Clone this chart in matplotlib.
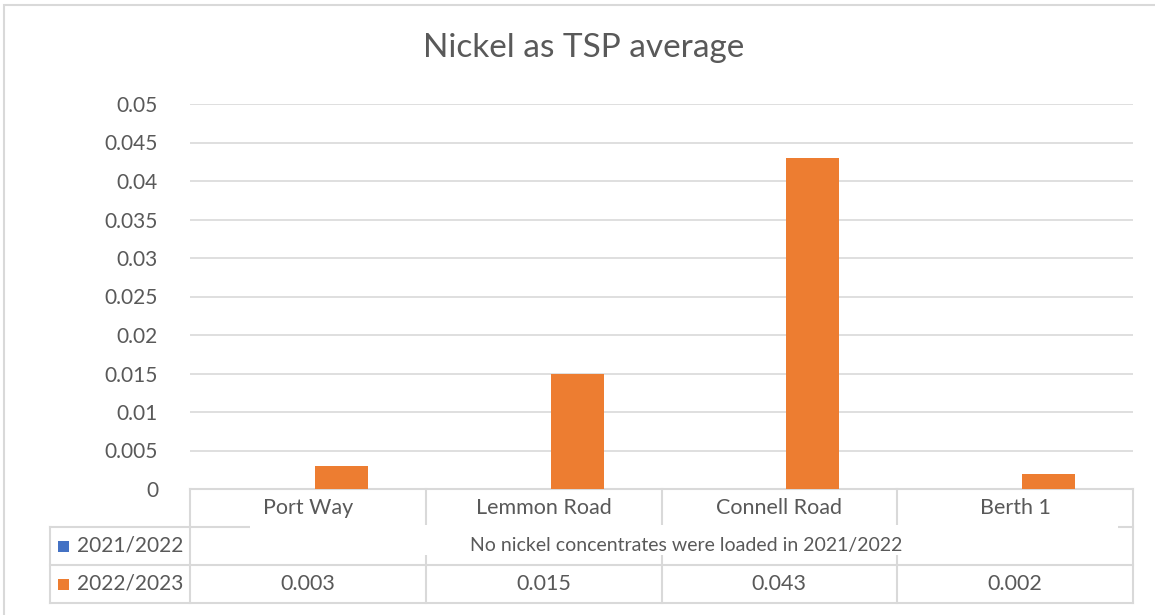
import matplotlib
matplotlib.use("Agg")
import matplotlib.pyplot as plt
from matplotlib.patches import Rectangle

# Data
sites = ["Port Way", "Lemmon Road", "Connell Road", "Berth 1"]
series_names = ["2021/2022", "2022/2023"]
values_2021 = [None, None, None, None]
values_2022 = [0.003, 0.015, 0.043, 0.002]
value_labels_2022 = ["0.003", "0.015", "0.043", "0.002"]
note_2021 = "No nickel concentrates were loaded in 2021/2022"
yticks = [0, 0.005, 0.01, 0.015, 0.02, 0.025, 0.03, 0.035, 0.04, 0.045, 0.05]
ytick_labels = ["0", "0.005", "0.01", "0.015", "0.02", "0.025", "0.03", "0.035",
                "0.04", "0.045", "0.05"]
title = "Nickel as TSP average"

BLUE = "#4472C4"
ORANGE = "#ED7D31"
TEXT = "#595959"
GRID = "#D9D9D9"

plt.rcParams["font.family"] = ["Lato", "DejaVu Sans"]

W, H = 1155, 615
fig = plt.figure(figsize=(W / 100, H / 100), dpi=100)
ax = fig.add_axes([190 / W, 1 - 489 / H, (1133 - 190) / W, (489 - 104) / H])

n = len(sites)
xs = list(range(n))
bar_w = 0.225
off_blue = -0.085
off_orange = 0.142

for i, v in enumerate(values_2021):
    if v is not None:
        ax.bar(i + off_blue, v, width=bar_w, color=BLUE, zorder=3)
ax.bar([x + off_orange for x in xs], values_2022, width=bar_w, color=ORANGE,
       zorder=3)

ax.set_xlim(-0.5, n - 0.5)
ax.set_ylim(0, 0.05)
ax.set_yticks(yticks)
ax.set_yticklabels(ytick_labels)
ax.set_xticks([])
ax.tick_params(axis="y", length=0, pad=23, labelsize=15, labelcolor=TEXT)
ax.grid(axis="y", color=GRID, linewidth=1.2, zorder=0)
for s in ax.spines.values():
    s.set_visible(False)

fig.text(584 / W, 1 - 48 / H, title, ha="center", va="center",
         fontsize=24, color=TEXT)

# Data table below the plot area (axes coordinates)
ah = 489 - 104
aw = 1133 - 190
row_h = 38 / ah
y_rows = [0, -row_h, -2 * row_h, -3 * row_h]
x_left = (50 - 190) / aw
tkw = dict(transform=ax.transAxes, clip_on=False, color=GRID, lw=1.5, zorder=1)

for k in range(n + 1):
    ax.plot([k / n, k / n], [y_rows[0], y_rows[3]], **tkw)
ax.plot([0, 1], [0, 0], **tkw)
for y in y_rows[1:]:
    ax.plot([x_left, 1], [y, y], **tkw)
ax.plot([x_left, x_left], [y_rows[1], y_rows[3]], **tkw)

for k, name in enumerate(sites):
    cx = (k + 0.5) / n
    ax.text(cx, (y_rows[0] + y_rows[1]) / 2, name, transform=ax.transAxes,
            ha="center", va="center", fontsize=15.5, color=TEXT, clip_on=False)
    ax.text(cx, (y_rows[2] + y_rows[3]) / 2, value_labels_2022[k],
            transform=ax.transAxes, ha="center", va="center", fontsize=15.5,
            color=TEXT, clip_on=False)

# Row labels with legend keys
key_w = 11 / aw
key_h = 11 / ah
for r, (label, col) in enumerate(zip(series_names, [BLUE, ORANGE])):
    yc = (y_rows[r + 1] + y_rows[r + 2]) / 2
    ax.add_patch(Rectangle(((58 - 190) / aw, yc - key_h / 2), key_w, key_h,
                           transform=ax.transAxes, clip_on=False,
                           facecolor=col, edgecolor="none", zorder=2))
    ax.text((77 - 190) / aw, yc, label, transform=ax.transAxes, ha="left",
            va="center", fontsize=15, color=TEXT, clip_on=False)

# Note spanning the 2021/2022 row, on a white box
box_x0 = (250 - 190) / aw
box_x1 = (1118 - 190) / aw
box_y0 = (489 - 555) / ah
box_y1 = (489 - 525) / ah
ax.add_patch(Rectangle((box_x0, box_y0), box_x1 - box_x0, box_y1 - box_y0,
                       transform=ax.transAxes, clip_on=False,
                       facecolor="white", edgecolor="none", zorder=4))
ax.text((686 - 190) / aw, (y_rows[1] + y_rows[2]) / 2, note_2021,
        transform=ax.transAxes, ha="center", va="center", fontsize=14,
        color=TEXT, clip_on=False, zorder=5)

# Chart border
fig.patches.append(Rectangle((4 / W, -0.05), 1.1, 1 - 5 / H + 0.05,
                             transform=fig.transFigure, fill=False,
                             edgecolor=GRID, lw=1.5))

fig.savefig("out.png", dpi=100, facecolor="white")
